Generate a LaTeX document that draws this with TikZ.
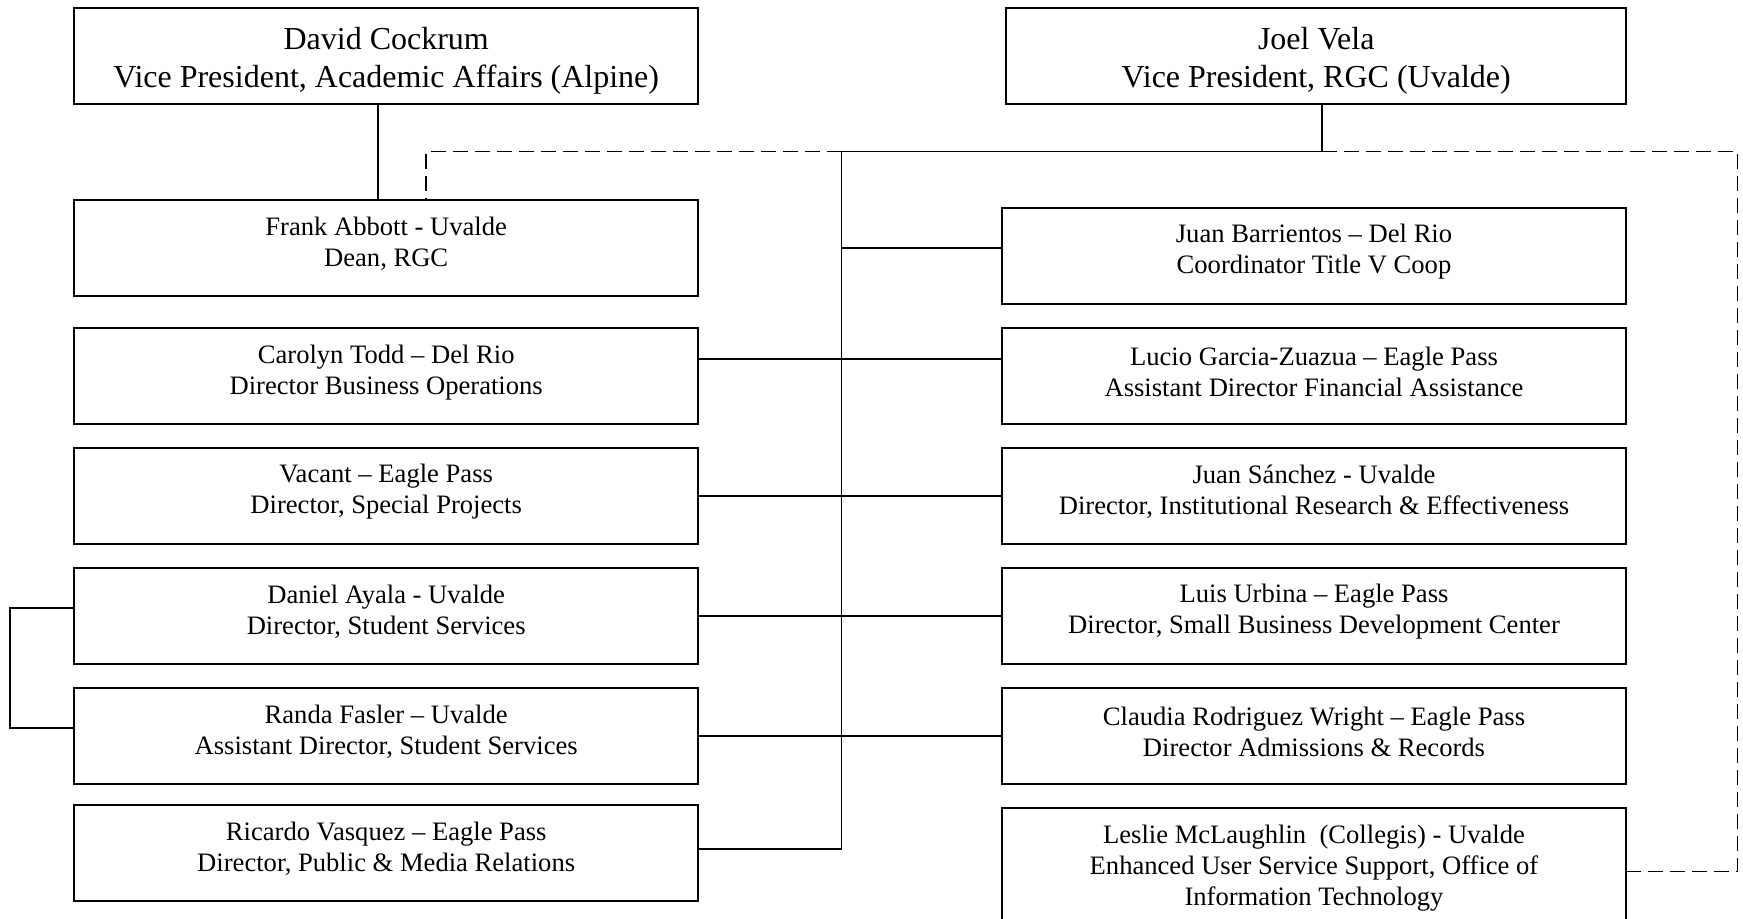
\documentclass[tikz,border=0pt]{standalone}
\usepackage{fontspec}
\setmainfont{Liberation Serif}
\begin{document}
\begin{tikzpicture}[x=0.5pt,y=-0.5pt,
  box/.style={draw,line width=1pt,inner sep=0pt,minimum width=312pt,minimum height=47.8pt},
  topbox/.style={box,minimum height=48.35pt},
  txt/.style={inner sep=0pt,align=center,font=\fontsize{13.3}{15.6}\selectfont},
  toptxt/.style={inner sep=0pt,align=center,font=\fontsize{16}{18.9}\selectfont},
  conn/.style={line width=0.9pt},
  dconn/.style={line width=0.9pt,dash pattern=on 7.5pt off 3.5pt}]
\useasboundingbox (0,0) rectangle (1743,918);
% top boxes
\node[topbox] (david) at (386.2,56.1) {};
\node[toptxt] (davidt) at (386.2,60.5) {David Cockrum\\Vice President, Academic Affairs (Alpine)};
\node[topbox,minimum width=310pt] (joel) at (1316.2,56.1) {};
\node[toptxt] (joelt) at (1316.2,60.5) {Joel Vela\\Vice President, RGC (Uvalde)};
% left column
\node[box] (frank) at (386.2,247.9) {};
\node[txt] (frankt) at (386.2,243.9) {Frank Abbott - Uvalde\\Dean, RGC};
\node[box] (carolyn) at (386.2,376.2) {};
\node[txt] (carolynt) at (386.2,372.2) {Carolyn Todd – Del Rio\\Director Business Operations};
\node[box] (vacant) at (386.2,495.8) {};
\node[txt] (vacantt) at (386.2,491.8) {Vacant – Eagle Pass\\Director, Special Projects};
\node[box] (daniel) at (386.2,615.8) {};
\node[txt] (danielt) at (386.2,611.8) {Daniel Ayala - Uvalde\\Director, Student Services};
\node[box] (randa) at (386.2,735.9) {};
\node[txt] (randat) at (386.2,731.9) {Randa Fasler – Uvalde\\Assistant Director, Student Services};
\node[box] (ricardo) at (386.2,852.7) {};
\node[txt] (ricardot) at (386.2,848.7) {Ricardo Vasquez – Eagle Pass\\Director, Public \& Media Relations};
% right column
\node[box] (juanb) at (1314,255.9) {};
\node[txt] (juanbt) at (1314,251.9) {Juan Barrientos – Del Rio\\Coordinator Title V Coop};
\node[box] (lucio) at (1314,376.2) {};
\node[txt] (luciot) at (1314,372.2) {Lucio Garcia-Zuazua – Eagle Pass\\Assistant Director Financial Assistance};
\node[box] (juans) at (1314,495.8) {};
\node[txt] (juanst) at (1314,491.8) {Juan Sánchez - Uvalde\\Director, Institutional Research \& Effectiveness};
\node[box] (luis) at (1314,615.8) {};
\node[txt] (luist) at (1314,611.8) {Luis Urbina – Eagle Pass\\Director, Small Business Development Center};
\node[box] (claudia) at (1314,735.9) {};
\node[txt] (claudiat) at (1314,731.9) {Claudia Rodriguez Wright – Eagle Pass\\Director Admissions \& Records};
\node[box,minimum height=63.5pt] (leslie) at (1314,871.5) {};
\node[txt] (lesliet) at (1314,868) {Leslie McLaughlin\ \ (Collegis) - Uvalde\\Enhanced User Service Support, Office of\\Information Technology};
% coordinates
\coordinate (jv) at (1322,151.5);
\coordinate (trtop) at (841.5,151.5);
\coordinate (trbot) at (841.5,849.3);
\coordinate (dl) at (425.7,151.5);
\coordinate (dr) at (1737.5,151.5);
\coordinate (drb) at (1737.5,871.5);
\coordinate (bk1) at (10,608);
\coordinate (bk2) at (10,727.7);
% connectors
\draw[conn] ([xshift=-4.1pt]david.south) -- ([xshift=-4.1pt]frank.north);
\draw[conn] (joel.south -| jv) -- (jv) -- (trtop) -- (trbot) -- (ricardo.east |- trbot);
\draw[dconn] (trtop) -- (dl) -- (frank.north -| dl);
\draw[dconn] (jv) -- (dr) -- (drb) -- (leslie.east |- drb);
\draw[conn] (trtop |- 0,247.7) -- (juanb.west |- 0,247.7);
\draw[conn] (carolyn.east |- 0,358.7) -- (lucio.west |- 0,358.7);
\draw[conn] (vacant.east) -- (juans.west);
\draw[conn] (daniel.east) -- (luis.west);
\draw[conn] (randa.east) -- (claudia.west);
\draw[conn] (daniel.west |- bk1) -- (bk1) -- (bk2) -- (randa.west |- bk2);
\end{tikzpicture}
\end{document}
